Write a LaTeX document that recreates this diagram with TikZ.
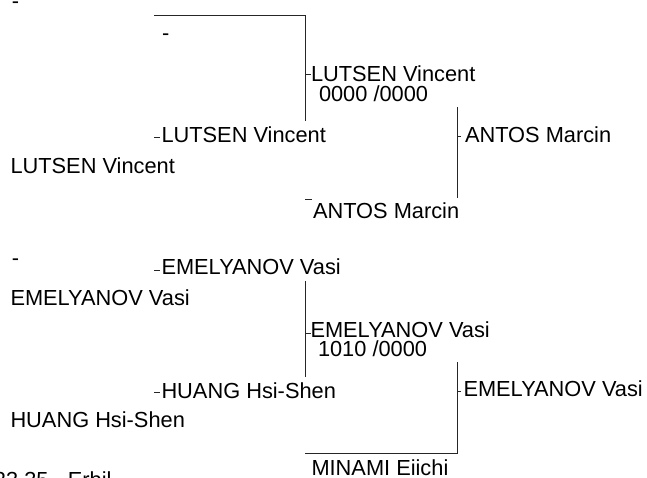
\documentclass[tikz,border=0pt]{standalone}
\usepackage{fontspec}
\setmainfont{Liberation Sans}
\begin{document}
\begin{tikzpicture}[x=1pt,y=-1pt,
  lbl/.style={font=\fontsize{21.8}{26}\selectfont, anchor=base west, inner sep=0pt, outer sep=0pt, text=black},
  ln/.style={line width=0.8pt, draw=black!85}]
\clip (0,0) rectangle (647,477);
\fill[white] (0,0) rectangle (647,477);
% ---------- top section ----------
\node[lbl] (d1) at (12,8) {-};
\node[lbl] (d2) at (162,40) {-};
\node[lbl] (lm) at (311,81) {LUTSEN Vincent};
\node[lbl] (ls) at (319,101) {0000 /0000};
\node[lbl] (l2) at (161.5,142) {LUTSEN Vincent};
\node[lbl] (l1) at (10.5,173) {LUTSEN Vincent};
\node[lbl] (a2) at (313,218) {ANTOS Marcin};
\node[lbl] (a3) at (465,142) {ANTOS Marcin};
\coordinate (ta) at (154,15);
\coordinate (tb) at (305,15);
\coordinate (tc) at (305,121);
\coordinate (ra) at (457,107);
\coordinate (rb) at (457,198);
\draw[ln] (ta) -- (tb) -- (tc);
\draw[ln] (ra) -- (rb);
\draw[ln] ([xshift=-6pt,yshift=7pt]lm.base west) -- ([yshift=7pt]lm.base west);
\draw[ln] ([xshift=-7.5pt,yshift=5pt]l2.base west) -- ([xshift=-1.5pt,yshift=5pt]l2.base west);
\draw[ln] ([xshift=-8pt,yshift=19pt]a2.base west) -- ([xshift=-1pt,yshift=19pt]a2.base west);
\draw[ln] ([xshift=-8pt,yshift=6pt]a3.base west) -- ([xshift=-4pt,yshift=6pt]a3.base west);
% ---------- bottom section ----------
\node[lbl] (d3) at (12,265) {-};
\node[lbl] (e2) at (161.5,274) {EMELYANOV Vasi};
\node[lbl] (e1) at (10.5,305) {EMELYANOV Vasi};
\node[lbl] (em) at (310.5,337.5) {EMELYANOV Vasi};
\node[lbl] (es) at (318,356) {1010 /0000};
\node[lbl] (h2) at (161.5,398) {HUANG Hsi-Shen};
\node[lbl] (h1) at (10.5,427) {HUANG Hsi-Shen};
\node[lbl] (e3) at (463.5,396) {EMELYANOV Vasi};
\node[lbl] (m2) at (311.5,475) {MINAMI Eiichi};
\node[lbl] (foot) at (-6,487) {23 35 - Erbil};
\coordinate (ba) at (305,281);
\coordinate (bb) at (305,377);
\coordinate (bc) at (457,362);
\coordinate (bd) at (457,453);
\coordinate (be) at (305,453);
\draw[ln] (ba) -- (bb);
\draw[ln] (bc) -- (bd) -- (be);
\draw[ln] ([xshift=-7.5pt,yshift=4pt]e2.base west) -- ([xshift=-1.5pt,yshift=4pt]e2.base west);
\draw[ln] ([xshift=-5.5pt,yshift=4pt]em.base west) -- ([yshift=4pt]em.base west);
\draw[ln] ([xshift=-7.5pt,yshift=6pt]h2.base west) -- ([xshift=-1.5pt,yshift=6pt]h2.base west);
\draw[ln] ([xshift=-6.5pt,yshift=5pt]e3.base west) -- ([xshift=-2.5pt,yshift=5pt]e3.base west);
\end{tikzpicture}
\end{document}
